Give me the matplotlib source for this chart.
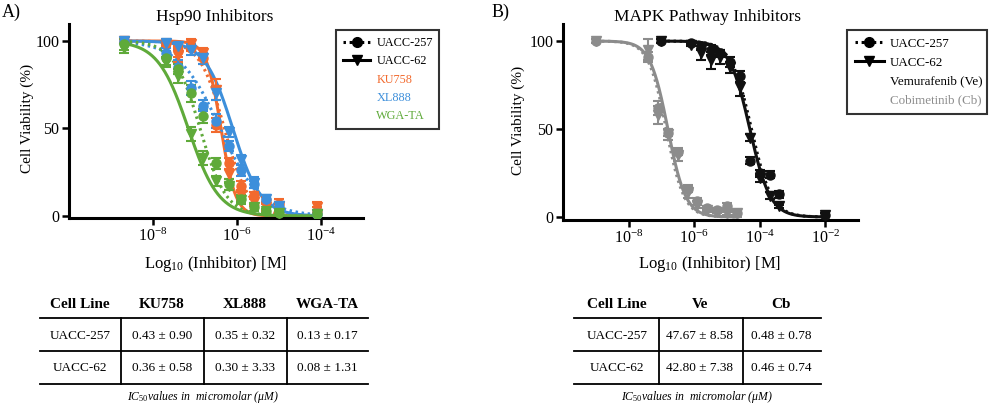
import numpy as np
import matplotlib
matplotlib.use("Agg")
import matplotlib.pyplot as plt
from matplotlib.lines import Line2D

plt.rcParams['font.family'] = ['Liberation Serif', 'DejaVu Serif']
plt.rcParams['mathtext.fontset'] = 'custom'
plt.rcParams['mathtext.rm'] = 'Liberation Serif'
plt.rcParams['mathtext.it'] = 'Liberation Serif:italic'
plt.rcParams['mathtext.bf'] = 'Liberation Serif:bold'
plt.rcParams['axes.unicode_minus'] = False

ORANGE = '#F26A2E'
BLUE = '#3D8FDB'
GREEN = '#5FAA3A'
GREY = '#8C8C8C'
BLACK = '#111111'

# ---- Hsp90 panel data (log10 molar concentration, % viability) ----
hsp_logc = [-8.7, -7.7, -7.4, -7.1, -6.8, -6.5, -6.2, -5.9, -5.6, -5.3, -5.0, -4.1]

ku_257 = [100, 99, 94, 96, 90, 52, 30, 17, 12, 9, 7, 3]
ku_257_err = [1, 2, 3, 2, 3, 4, 3, 3, 2, 2, 3, 2]
ku_62 = [100, 98, 92, 98, 93, 72, 24, 12, 8, 5, 6, 5]
ku_62_err = [1, 2, 4, 3, 3, 6, 3, 3, 2, 2, 2, 3]

xl_257 = [100, 93, 85, 73, 63, 54, 40, 26, 18, 10, 5, 1]
xl_257_err = [1, 3, 4, 4, 3, 4, 3, 3, 2, 2, 2, 1]
xl_62 = [100, 99, 97, 95, 90, 70, 48, 32, 19, 10, 6, 1]
xl_62_err = [1, 1, 2, 3, 3, 4, 3, 3, 3, 2, 2, 1]

wga_257 = [98, 90, 84, 70, 57, 30, 18, 10, 5, 3, 2, 1]
wga_257_err = [3, 4, 3, 5, 4, 3, 3, 2, 2, 1, 1, 1]
wga_62 = [96, 88, 80, 47, 33, 20, 17, 9, 5, 3, 2, 1]
wga_62_err = [3, 3, 4, 4, 4, 3, 2, 2, 2, 1, 1, 1]

# fitted curve parameters: (log10 IC50, Hill slope)
ku_fit = [(-6.30, 1.5), (-6.38, 2.5)]
xl_fit = [(-6.40, 0.9), (-6.10, 1.3)]
wga_fit = [(-6.88, 1.4), (-7.16, 1.2)]

# ---- MAPK panel data ----
ve_logc = [-7.0, -6.1, -5.8, -5.5, -5.2, -4.9, -4.6, -4.3, -4.0, -3.7, -3.4, -2.0]
ve_257 = [100, 99, 97, 95, 93, 88, 80, 32, 25, 24, 13, 1]
ve_257_err = [1, 1, 2, 3, 2, 3, 3, 2, 2, 2, 2, 1]
ve_62 = [100, 98, 93, 89, 91, 85, 74, 45, 22, 12, 6, 1]
ve_62_err = [1, 1, 4, 5, 4, 3, 5, 2, 2, 2, 1, 1]

cb_logc = [-9.0, -7.4, -7.1, -6.8, -6.5, -6.2, -5.9, -5.6, -5.3, -5.0, -4.7]
cb_257 = [100, 91, 62, 48, 37, 16, 9, 5, 4, 6, 2]
cb_257_err = [1, 3, 4, 2, 2, 2, 2, 1, 1, 2, 1]
cb_62 = [100, 95, 58, 47, 35, 14, 7, 4, 3, 2, 2]
cb_62_err = [1, 6, 5, 3, 3, 3, 2, 1, 1, 1, 2]

ve_fit = [(-4.25, 1.4), (-4.30, 1.4)]
cb_fit = [(-6.85, 1.6), (-6.80, 1.6)]

# ---- IC50 tables ----
hsp_drugs = ['KU758', 'XL888', 'WGA-TA']
mapk_drugs = ['Ve', 'Cb']
mapk_names = ['Vemurafenib (Ve)', 'Cobimetinib (Cb)']
cell_lines = ['UACC-257', 'UACC-62']
hsp_ic50 = [[0.43, 0.35, 0.13], [0.36, 0.30, 0.08]]
hsp_ic50_sd = [[0.90, 0.32, 0.17], [0.58, 3.33, 1.31]]
mapk_ic50 = [[47.67, 0.48], [42.80, 0.46]]
mapk_ic50_sd = [[8.58, 0.78], [7.38, 0.74]]

W, H = 990, 407
fig = plt.figure(figsize=(W / 100, H / 100), dpi=100)


def fx(px):
    return px / W


def fy(py):
    return 1 - py / H


def hill(logc, logic50, slope):
    return 100 / (1 + 10 ** ((logc - logic50) * slope))


DOT = (0, (0.8, 1.2))


def draw_series(ax, logc, vals, errs, fit, color, cell):
    marker = 'o' if cell == 0 else 'v'
    ls = DOT if cell == 0 else '-'
    x = 10 ** np.array(logc)
    ax.errorbar(x, vals, yerr=errs, fmt=marker, color=color, ms=6.5,
                capsize=3.5, elinewidth=1.5, capthick=1.5, zorder=3)
    xx = np.linspace(min(logc), max(logc), 300)
    ax.plot(10 ** xx, hill(xx, *fit), color=color, ls=ls, lw=2.2, zorder=2)


def style_axes(ax, xlim, xticks, ybot):
    ax.set_xscale('log')
    ax.set_xlim(*xlim)
    ax.set_ylim(ybot, 109.7)
    ax.set_xticks(xticks)
    ax.minorticks_off()
    ax.set_yticks([0, 50, 100])
    for s in ['top', 'right']:
        ax.spines[s].set_visible(False)
    for s in ['left', 'bottom']:
        ax.spines[s].set_linewidth(2.2)
    ax.tick_params(width=1.8, length=5, labelsize=11.5, pad=2)


# ---- panel A ----
axA = fig.add_axes([fx(69), fy(218), fx(363) - fx(69), fy(24) - fy(218)])
for i, (vals, errs) in enumerate([(ku_257, ku_257_err), (ku_62, ku_62_err)]):
    draw_series(axA, hsp_logc, vals, errs, ku_fit[i], ORANGE, i)
for i, (vals, errs) in enumerate([(xl_257, xl_257_err), (xl_62, xl_62_err)]):
    draw_series(axA, hsp_logc, vals, errs, xl_fit[i], BLUE, i)
for i, (vals, errs) in enumerate([(wga_257, wga_257_err), (wga_62, wga_62_err)]):
    draw_series(axA, hsp_logc, vals, errs, wga_fit[i], GREEN, i)
style_axes(axA, (1e-10, 1e-3), [1e-8, 1e-6, 1e-4], -1.14)

# ---- panel B ----
axB = fig.add_axes([fx(563), fy(220), fx(858) - fx(563), fy(24) - fy(220)])
draw_series(axB, cb_logc, cb_257, cb_257_err, cb_fit[0], GREY, 0)
draw_series(axB, cb_logc, cb_62, cb_62_err, cb_fit[1], GREY, 1)
draw_series(axB, ve_logc, ve_257, ve_257_err, ve_fit[0], BLACK, 0)
draw_series(axB, ve_logc, ve_62, ve_62_err, ve_fit[1], BLACK, 1)
style_axes(axB, (1e-10, 1e-1), [1e-8, 1e-6, 1e-4, 1e-2], -1.7)

# titles / labels
fig.text(fx(215), fy(17), 'Hsp90 Inhibitors', ha='center', va='center', fontsize=12.5)
fig.text(fx(707), fy(17), 'MAPK Pathway Inhibitors', ha='center', va='center', fontsize=12.5)
fig.text(fx(2), fy(12), 'A)', ha='left', va='center', fontsize=13)
fig.text(fx(492), fy(12), 'B)', ha='left', va='center', fontsize=13)
for cx in [216, 710]:
    fig.text(fx(cx), fy(264), 'Log$_{10}$ (Inhibitor) [M]', ha='center', va='center', fontsize=12)
for cx, cy in [(27, 118), (518, 120)]:
    fig.text(fx(cx), fy(cy), 'Cell Viability (%)', ha='center', va='center',
             rotation=90, fontsize=11)


# legends
def make_legend(ax, names, colors, left, top, width, height, size):
    handles = [Line2D([], [], color='black', ls=DOT, lw=2.2, marker='o', ms=7),
               Line2D([], [], color='black', ls='-', lw=2.2, marker='v', ms=7)]
    handles += [Line2D([], [], alpha=0) for _ in names]
    labels = cell_lines + names
    leg = ax.legend(handles, labels, loc='upper left',
                    bbox_to_anchor=(fx(left), fy(top + height), fx(left + width) - fx(left), fy(top) - fy(top + height)),
                    bbox_transform=fig.transFigure, mode='expand',
                    labelcolor=['black', 'black'] + colors, fontsize=size,
                    frameon=True, fancybox=False, edgecolor='black',
                    handlelength=2.2, handletextpad=0.5, labelspacing=0.5,
                    borderpad=0.6, borderaxespad=0)
    leg.get_frame().set_linewidth(1.5)


make_legend(axA, hsp_drugs, [ORANGE, BLUE, GREEN], 336, 30, 103, 96, 8.8)
make_legend(axB, mapk_names, ['black', GREY], 847, 30, 140, 81, 9.4)


# tables
def hline(x0, x1, y):
    fig.add_artist(Line2D([fx(x0), fx(x1)], [fy(y), fy(y)], color='black', lw=1.3))


def vline(x, y0, y1):
    fig.add_artist(Line2D([fx(x), fx(x)], [fy(y0), fy(y1)], color='black', lw=1.3))


def draw_table(drugs, means, sds, left, right, col_centers, dividers, caption_x):
    header_y, row_ys, lines_y = 305, [336, 368], [318, 351, 384]
    for cx, name in zip(col_centers, ['Cell Line'] + drugs):
        fig.text(fx(cx), fy(header_y), name, ha='center', va='center',
                 fontsize=11, fontweight='bold')
    for r, cell in enumerate(cell_lines):
        fig.text(fx(col_centers[0]), fy(row_ys[r]), cell, ha='center', va='center', fontsize=9.5)
        for c in range(len(drugs)):
            fig.text(fx(col_centers[c + 1]), fy(row_ys[r]),
                     f'{means[r][c]:.2f} \u00b1 {sds[r][c]:.2f}',
                     ha='center', va='center', fontsize=9.5)
    for y in lines_y:
        hline(left, right, y)
    for x in dividers:
        vline(x, lines_y[0], lines_y[-1])
    fig.text(fx(caption_x), fy(397), '$IC_{50}$values in  micromolar (\u03bcM)',
             ha='center', va='center', fontsize=8.5, style='italic')


draw_table(hsp_drugs, hsp_ic50, hsp_ic50_sd, 40, 368, [80, 162, 245, 327], [121, 204, 287], 203)
draw_table(mapk_drugs, mapk_ic50, mapk_ic50_sd, 574, 821, [617, 700, 781], [659, 743], 697)

fig.savefig('out.png', dpi=100)
